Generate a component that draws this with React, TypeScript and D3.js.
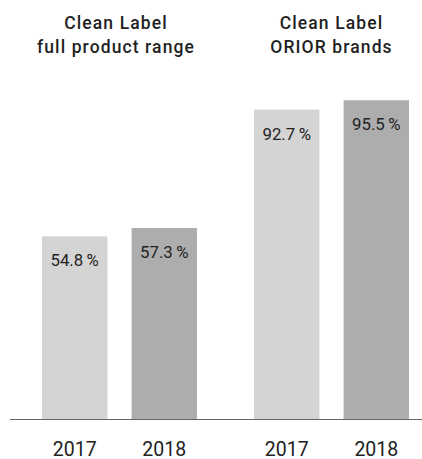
import React from "react";
import * as d3 from "d3";

const groups = ["Clean Label\nfull product range", "Clean Label\nORIOR brands"];
const years = ["2017", "2018"];
const values = [
  [54.8, 57.3],
  [92.7, 95.5],
];
const colors = ["#d4d4d4", "#adadae"];

export default function App() {
  const W = 422;
  const H = 459;
  const baseY = 419.5;
  const x0 = d3.scaleBand<string>().domain(groups).range([42, 409]).paddingInner(0.269).paddingOuter(0);
  const x1 = d3.scaleBand<string>().domain(years).range([0, x0.bandwidth()]).paddingInner(0.27).paddingOuter(0);
  const y = d3.scaleLinear().domain([0, 100]).range([baseY, 85.2]);
  const font = "Roboto, 'Noto Sans', sans-serif";
  return (
    <svg width={W} height={H} style={{ position: "absolute", left: 0, top: 0 }} fontFamily={font}>
      {groups.map((g, gi) => {
        const gx = x0(g)!;
        const cx = gx + x0.bandwidth() / 2;
        const lines = g.split("\n");
        return (
          <g key={g}>
            {lines.map((l, li) => (
              <text key={li} x={cx - (gi === 0 ? 3.5 : 0)} y={29 + li * 23.5} textAnchor="middle" fontSize={17.5} fontWeight={500} letterSpacing={1.1} fill="#1f1f1f">
                {l}
              </text>
            ))}
            {years.map((yr, yi) => {
              const v = values[gi][yi];
              const bx = gx + x1(yr)!;
              const bw = x1.bandwidth();
              return (
                <g key={yr}>
                  <rect x={bx} y={y(v)} width={bw} height={baseY - y(v)} fill={colors[yi]} />
                  <text x={bx + bw / 2} y={y(v) + 30} textAnchor="middle" fontSize={16.8} fill="#222">
                    {v.toFixed(1) + "\u2009%"}
                  </text>
                  <text x={bx + bw / 2} y={455.5} textAnchor="middle" fontSize={19.5} fill="#222">
                    {yr}
                  </text>
                </g>
              );
            })}
          </g>
        );
      })}
      <line x1={10} x2={422} y1={baseY} y2={baseY} stroke="#666" strokeWidth={1} />
    </svg>
  );
}
